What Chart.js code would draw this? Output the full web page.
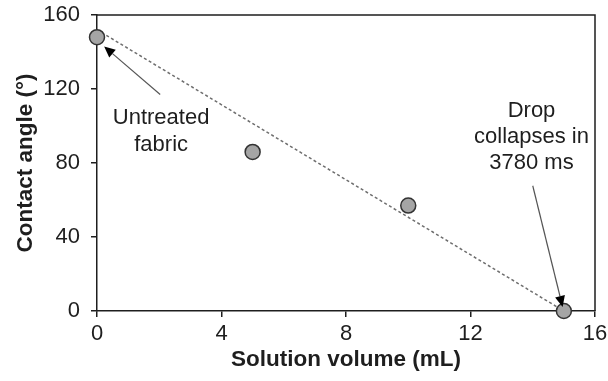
<!DOCTYPE html>
<html>
<head>
<meta charset="utf-8">
<script src="https://cdn.jsdelivr.net/npm/chart.js@4.4.1/dist/chart.umd.min.js"></script>
<style>
html,body{margin:0;padding:0;background:#fff;}
#wrap{width:608px;height:381px;position:relative;}
</style>
</head>
<body>
<div id="wrap"><canvas id="c" width="608" height="381"></canvas></div>
<script>
// Data
const volumes = [0, 5, 10, 15];
const angles = [148, 86, 57, 0];
const trendX = [0.3, 14.9];
const trendY = [149, 1];
const xTicks = [0, 4, 8, 12, 16];
const yTicks = [0, 40, 80, 120, 160];
const xTitle = 'Solution volume (mL)';
const yTitle = 'Contact angle (°)';
const notes = [
  {lines: ['Untreated', 'fabric'], x: 2.06, y: [104.5, 90], tail: [2.03, 117], head: [0.23, 143]},
  {lines: ['Drop', 'collapses in', '3780 ms'], x: 13.96, y: [108, 94, 80], tail: [14.0, 67.7], head: [14.96, 2.2]}
];

const FONT = "'Liberation Sans', Arial, sans-serif";
const INK = '#1e1e1e';

const annot = {
  id: 'annot',
  afterDatasetsDraw(chart) {
    const {ctx, chartArea: a, scales: {x, y}} = chart;
    ctx.save();
    ctx.strokeStyle = INK;
    ctx.lineWidth = 1.5;
    ctx.beginPath();
    ctx.moveTo(a.left, a.top); ctx.lineTo(a.right, a.top); ctx.lineTo(a.right, a.bottom);
    ctx.stroke();
    ctx.font = '22px ' + FONT;
    ctx.fillStyle = INK;
    ctx.textAlign = 'center';
    ctx.textBaseline = 'middle';
    notes.forEach(n => {
      n.lines.forEach((t, i) => ctx.fillText(t, x.getPixelForValue(n.x), y.getPixelForValue(n.y[i])));
      const tx = x.getPixelForValue(n.tail[0]), ty = y.getPixelForValue(n.tail[1]);
      const hx = x.getPixelForValue(n.head[0]), hy = y.getPixelForValue(n.head[1]);
      const ang = Math.atan2(hy - ty, hx - tx);
      const L = 11, W = 5;
      const bx = hx - L * Math.cos(ang), by = hy - L * Math.sin(ang);
      ctx.strokeStyle = '#555';
      ctx.lineWidth = 1.2;
      ctx.beginPath(); ctx.moveTo(tx, ty); ctx.lineTo(bx, by); ctx.stroke();
      ctx.fillStyle = '#000';
      ctx.beginPath();
      ctx.moveTo(hx, hy);
      ctx.lineTo(bx + W * Math.sin(ang), by - W * Math.cos(ang));
      ctx.lineTo(bx - W * Math.sin(ang), by + W * Math.cos(ang));
      ctx.closePath(); ctx.fill();
      ctx.fillStyle = INK;
    });
    ctx.restore();
  }
};

new Chart(document.getElementById('c'), {
  type: 'scatter',
  data: {
    datasets: [
      {
        label: 'Contact angle',
        data: volumes.map((v, i) => ({x: v, y: angles[i]})),
        pointRadius: 7.5,
        pointHoverRadius: 7.5,
        pointBackgroundColor: '#a5a5a5',
        pointBorderColor: '#333',
        pointBorderWidth: 1.5,
        showLine: false,
        clip: false
      },
      {
        label: 'Trend',
        data: trendX.map((v, i) => ({x: v, y: trendY[i]})),
        showLine: true,
        pointRadius: 0,
        borderColor: '#6e6e6e',
        borderWidth: 1.5,
        borderDash: [3, 2.5],
        fill: false,
        clip: false
      }
    ]
  },
  options: {
    responsive: false,
    animation: false,
    events: [],
    layout: {padding: {left: 0, right: 13, top: 15, bottom: 0}},
    plugins: {legend: {display: false}, tooltip: {enabled: false}},
    scales: {
      x: {
        type: 'linear', min: 0, max: 16,
        afterBuildTicks: s => { s.ticks = xTicks.map(v => ({value: v})); },
        afterFit: s => { s.height = 70; s.paddingLeft = 0; s.paddingRight = 0; },
        grid: {display: true, drawOnChartArea: false, drawTicks: true, tickLength: 6, color: INK, lineWidth: 1.5},
        border: {display: true, color: INK, width: 1.5},
        ticks: {color: INK, font: {family: FONT, size: 22}, padding: 4, maxRotation: 0, autoSkip: false},
        title: {display: true, text: xTitle, color: INK, font: {family: FONT, size: 22.5, weight: 'bold'}, padding: {top: 0, bottom: 8}}
      },
      y: {
        type: 'linear', min: 0, max: 160,
        afterBuildTicks: s => { s.ticks = yTicks.map(v => ({value: v})); },
        afterFit: s => { s.width = 97; s.paddingTop = 0; s.paddingBottom = 0; },
        grid: {display: true, drawOnChartArea: false, drawTicks: true, tickLength: 6, color: INK, lineWidth: 1.5},
        border: {display: true, color: INK, width: 1.5},
        ticks: {color: INK, font: {family: FONT, size: 22}, padding: 11, autoSkip: false},
        title: {display: true, text: yTitle, color: INK, font: {family: FONT, size: 22.5, weight: 'bold'}, padding: {top: 12, bottom: 0}}
      }
    }
  },
  plugins: [annot]
});
</script>
</body>
</html>
